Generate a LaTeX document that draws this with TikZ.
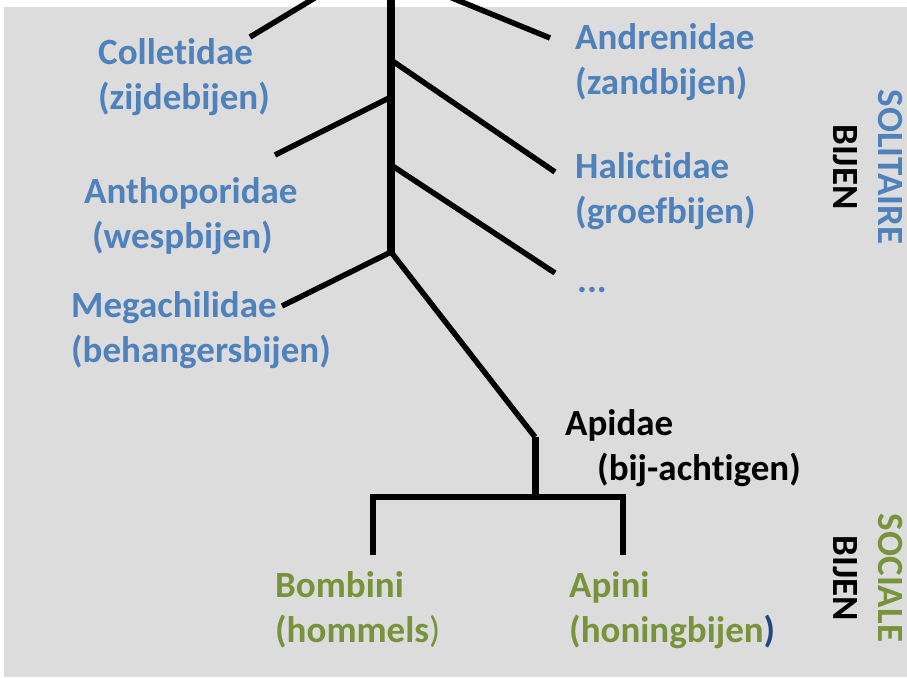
\documentclass[tikz,border=0pt]{standalone}
\usepackage{fontspec}
\setmainfont{Carlito}[Ligatures={NoCommon,NoContextual}]
\usetikzlibrary{positioning}
\definecolor{bijblauw}{HTML}{4F81BD}
\definecolor{bijgroen}{HTML}{77933C}
\definecolor{donkerblauw}{HTML}{1F497D}
\definecolor{achtergrond}{HTML}{DCDCDC}

\begin{document}
\begin{tikzpicture}[x=1pt,y=-1pt]
	\tikzstyle{stam} = [draw, line width=8pt]
	\tikzstyle{tak} = [draw, line width=5.5pt]
	\tikzstyle{familie} = [font=\fontsize{37}{45}\selectfont\bfseries, text=bijblauw, align=left, inner sep=0pt, anchor=base west]% base = laatste regel
	\tikzstyle{tribus} = [familie, text=bijgroen]
	\tikzstyle{groep} = [font=\fontsize{37}{45}\selectfont\bfseries, align=center, inner sep=0pt, rotate=-90]

	\useasboundingbox (0,0) rectangle (907,677);
	\clip (0,0) rectangle (907,677);
	\fill [white] (0,0) rectangle (907,677);
	\fill [achtergrond] (4,7) rectangle (907,677);

	% stam en vertakkingen
	\coordinate (stamTop) at (391,-60);
	\coordinate (stamOnder) at (391,252);
	\coordinate (splitColl) at (391,-48);
	\coordinate (splitAndr) at (391,-27);
	\coordinate (splitHal) at (391,60);
	\coordinate (splitAnth) at (391,97);
	\coordinate (splitRest) at (391,165);
	\coordinate (eindColl) at (250,37);
	\coordinate (eindAndr) at (550,38);
	\coordinate (eindHal) at (555,172);
	\coordinate (eindAnth) at (275,155);
	\coordinate (eindRest) at (555,273);
	\coordinate (eindMega) at (282,306);
	\coordinate (knikApi) at (535,437);
	\coordinate (splitApi) at (535,497);
	\coordinate (eindBomb) at (373,555);
	\coordinate (eindApin) at (623,555);

	\node [familie] at (98,109) (Colletidae) {Colletidae\\(zijdebijen)};
	\node [familie] at (84,248) (Anthoporidae) {Anthoporidae\\\hspace*{8pt}(wespbijen)};
	\node [familie] at (71,362) (Megachilidae) {Megachilidae\\(behangersbijen)};
	\node [familie] at (575,94) (Andrenidae) {Andrenidae\\(zandbijen)};
	\node [familie] at (575,223) (Halictidae) {Halictidae\\(groefbijen)};
	\node [familie] at (577,292) (overig) {...};
	\node [familie, text=black] at (565,480) (Apidae) {Apidae\\\hspace*{32pt}(bij-achtigen)};
	\node [tribus] at (275,642) (Bombini) {Bombini\\(hommels{\mdseries)}};
	\node [tribus] at (569,642) (Apini) {Apini\\(honingbijen\textcolor{donkerblauw}{)}};

	\node [groep] at (868,167) (solitair) {\textcolor{bijblauw}{SOLITAIRE}\\BIJEN};
	\node [groep] at (868,578) (sociaal) {\textcolor{bijgroen}{SOCIALE}\\BIJEN};

	\path [stam] (stamTop) -- (stamOnder);
	\path [tak] (splitColl) -- (eindColl);
	\path [tak] (splitAndr) -- (eindAndr);
	\path [tak] (splitHal) -- (eindHal);
	\path [tak] (splitAnth) -- (eindAnth);
	\path [tak] (splitRest) -- (eindRest);
	\path [tak] (stamOnder) -- (eindMega);
	\path [tak] (stamOnder) -- (knikApi);
	\path [tak, line width=7pt] (knikApi) -- (splitApi);
	\path [tak] (eindBomb) |- (splitApi) -| (eindApin);
\end{tikzpicture}
\end{document}
